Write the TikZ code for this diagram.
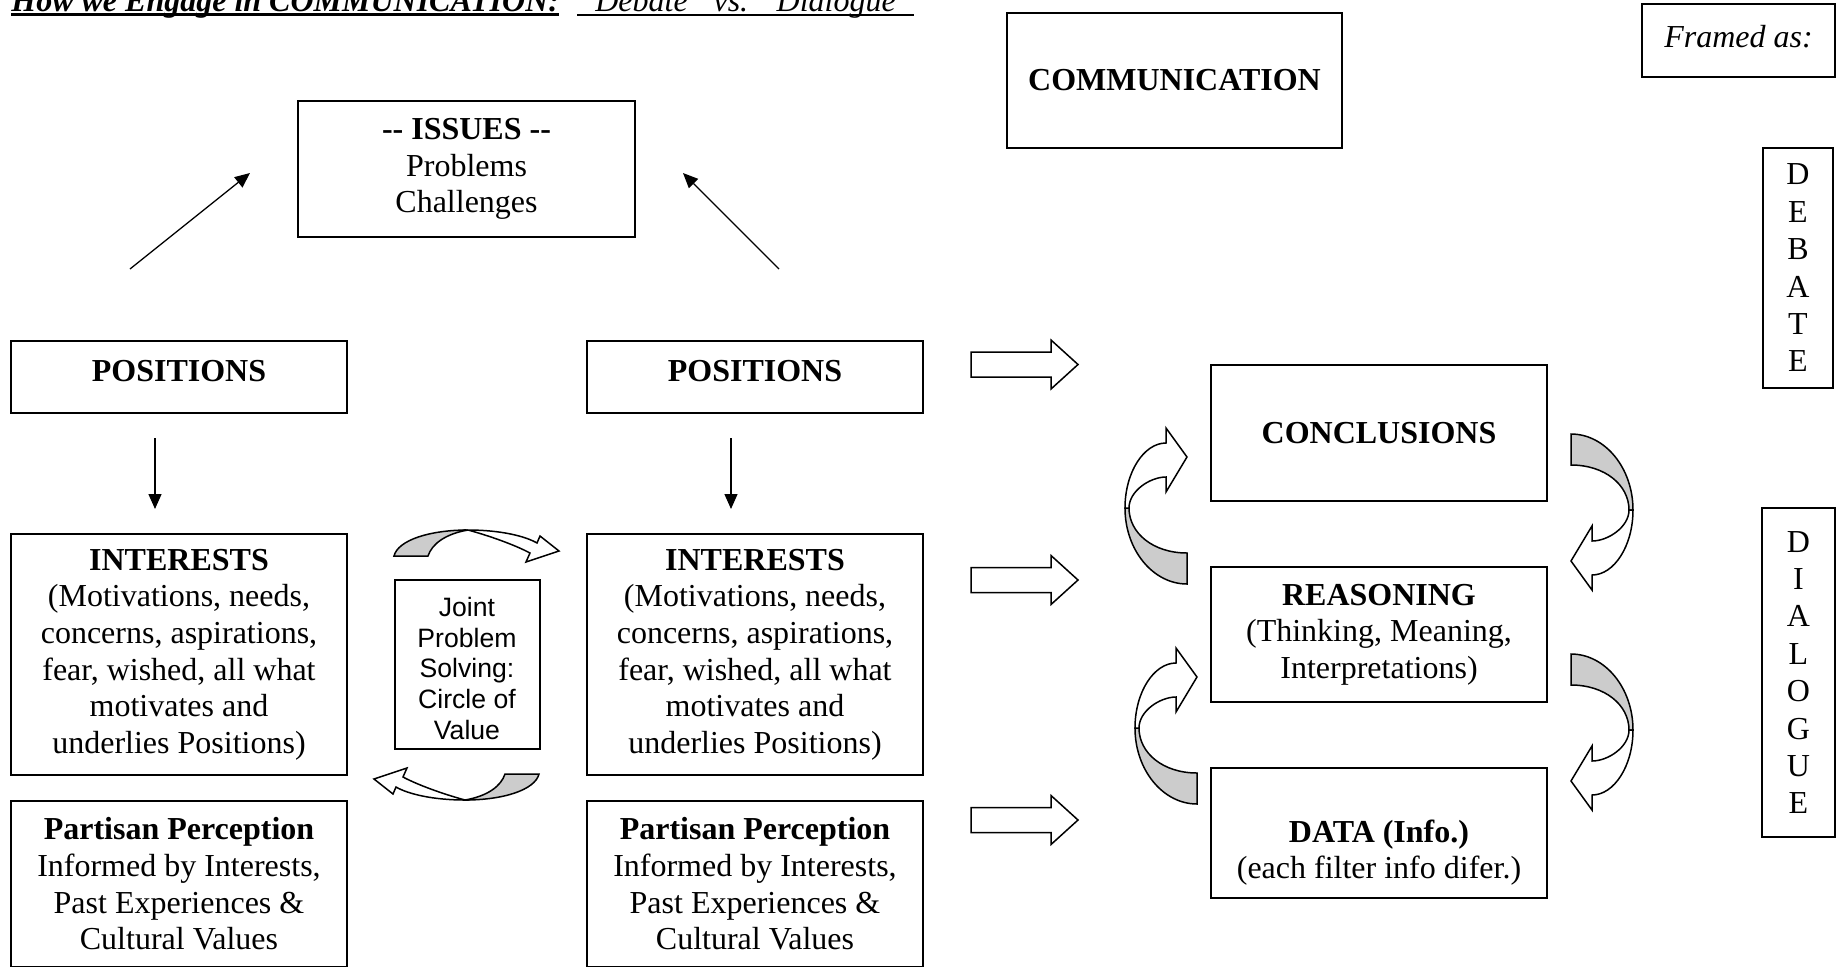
\documentclass[tikz,border=0pt]{standalone}
\usepackage{fontspec}
\setmainfont{Liberation Serif}
\newfontfamily\arialfont{Liberation Sans}
\usepackage{tikz}
\usetikzlibrary{arrows.meta}
\usetikzlibrary{positioning}

\newcommand{\bxfont}{\fontsize{16pt}{18.3pt}\selectfont}
\newcommand{\jointfont}{\arialfont\fontsize{13.3pt}{15.3pt}\selectfont}
\newcommand{\letterfont}{\fontsize{16pt}{18.7pt}\selectfont}

\tikzset{
  box/.style={draw, line width=1pt, align=center, inner sep=0pt, font=\bxfont},
  colbox/.style={box, minimum width=168pt},
  thinarrow/.style={line width=0.65pt, -{Triangle[length=7.5pt,width=6.5pt]}},
  fat/.style={draw, line width=0.75pt, line join=miter},
  bentarrow/.pic={
    \draw[fat, fill=gray!40] (0,127) .. controls (-34,127) and (-62,93) .. (-62,51)
      -- (-58,51) .. controls (-58,76) and (-34,96) .. (0,96) -- cycle;
    \draw[fat, fill=white] (-62,51) .. controls (-62,15) and (-43,-14) .. (-21,-14)
      -- (-21,-29) -- (0,0) -- (-21,35) -- (-21,20)
      .. controls (-37,20) and (-58,34) .. (-58,51) -- cycle;
  },
  smallbent/.pic={
    \draw[fat, fill=gray!40] (-165,5) .. controls (-161,-11) and (-129,-21) .. (-91,-21)
      .. controls (-114,-17) and (-127,-7) .. (-131,5) -- cycle;
    \draw[fat, fill=white] (-91,-21) .. controls (-59,-21) and (-34,-15) .. (-22,-8)
      -- (-19,-15) -- (0,0) -- (-33,11) -- (-29,2)
      .. controls (-44,-6) and (-69,-15) .. (-91,-21) -- cycle;
  },
}

\begin{document}
\begin{tikzpicture}[x=0.5pt, y=-0.5pt]
  \path[use as bounding box] (0,0) rectangle (1844,966);
  \clip (0,0) rectangle (1844,966);

  % heading
  \node[anchor=base west, inner sep=0pt, font=\bxfont\bfseries\itshape] (title) at (11,11.5)
    {How we Engage in COMMUNICATION:};
  \draw[line width=1.6pt] ([yshift=-1.6pt]title.base west) -- ([yshift=-1.6pt]title.base east);
  \node[anchor=base east, inner sep=0pt, font=\bxfont\itshape] (versus) at (914,11.5)
    {"Debate" vs. "Dialogue"};
  \draw[line width=0.8pt] ([yshift=-1.6pt]versus.base west) -- ([yshift=-1.6pt]versus.base east);

  % top boxes
  \node[box, minimum width=168.5pt, minimum height=68pt] (issues) at (466.5,169)
    {\textbf{-{}- ISSUES -{}-}\\Problems\\Challenges};
  \node[box, minimum width=167.5pt, minimum height=67.5pt] (comm) at (1174.5,80.5)
    {\textbf{COMMUNICATION}};
  \node[box, font=\bxfont\itshape, minimum width=96.5pt, minimum height=36.5pt] (framed) at (1738.5,40.5)
    {Framed as:\rule[-4pt]{0pt}{4pt}};

  % left side
  \node[colbox, minimum height=36pt] (posL) at (179,377)
    {\textbf{POSITIONS}\rule[-6.5pt]{0pt}{6.5pt}};
  \node[colbox, minimum height=120.5pt, below=59.5pt of posL] (intL)
    {\textbf{INTERESTS}\\(Motivations, needs,\\concerns, aspirations,\\fear, wished, all what\\motivates and\\underlies Positions)};
  \node[colbox, minimum height=83pt, below=12pt of intL] (partL)
    {\textbf{Partisan Perception}\\Informed by Interests,\\Past Experiences \&\\Cultural Values};

  \node[colbox, minimum height=36pt] (posR) at (755,377)
    {\textbf{POSITIONS}\rule[-6.5pt]{0pt}{6.5pt}};
  \node[colbox, minimum height=120.5pt, below=59.5pt of posR] (intR)
    {\textbf{INTERESTS}\\(Motivations, needs,\\concerns, aspirations,\\fear, wished, all what\\motivates and\\underlies Positions)};
  \node[colbox, minimum height=83pt, below=12pt of intR] (partR)
    {\textbf{Partisan Perception}\\Informed by Interests,\\Past Experiences \&\\Cultural Values};

  \node[box, font=\jointfont, minimum width=72.5pt, minimum height=84.5pt] (joint) at (467,664.5)
    {\rule{0pt}{13.5pt}Joint\\Problem\\Solving:\\Circle of\\Value};

  \coordinate (dl0) at (130,269);
  \coordinate (dl1) at (250,173);
  \coordinate (dr0) at (779,269);
  \coordinate (dr1) at (683,173);
  \draw[thinarrow] (dl0) -- (dl1);
  \draw[thinarrow] (dr0) -- (dr1);
  \draw[thinarrow, shorten <=12pt, shorten >=12pt] ([xshift=-12pt]posL.south) -- ([xshift=-12pt]intL.north);
  \draw[thinarrow, shorten <=12pt, shorten >=12pt] ([xshift=-12pt]posR.south) -- ([xshift=-12pt]intR.north);

  \pic at (559,551) {smallbent};
  \pic[rotate=180] at (374,779) {smallbent};

  % block arrows
  \draw[fat] (971,352) -- (1051,352) -- (1051,340) -- (1078,364.5) -- (1051,389) -- (1051,377) -- (971,377) -- cycle;
  \draw[fat] (971,567.5) -- (1051,567.5) -- (1051,555.5) -- (1078,580) -- (1051,604.5) -- (1051,592.5) -- (971,592.5) -- cycle;
  \draw[fat] (971,807.5) -- (1051,807.5) -- (1051,795.5) -- (1078,820) -- (1051,844.5) -- (1051,832.5) -- (971,832.5) -- cycle;

  % right side
  \node[colbox, minimum height=68pt] (concl) at (1379,433) {\textbf{CONCLUSIONS}};
  \node[colbox, minimum height=67.5pt, below=32pt of concl] (reason)
    {\textbf{REASONING}\\(Thinking, Meaning,\\Interpretations)};
  \node[colbox, minimum height=65pt, below=32pt of reason] (data)
    {\rule{0pt}{31pt}\textbf{DATA (Info.)}\\(each filter info difer.)};

  \pic at (1187,457) {bentarrow};
  \pic at (1197,677) {bentarrow};
  \pic[rotate=180] at (1571,561) {bentarrow};
  \pic[rotate=180] at (1571,781) {bentarrow};

  \node[box, font=\letterfont, minimum width=35pt, minimum height=120pt] (debate) at (1798,268)
    {D\\E\\B\\A\\T\\E};
  \node[box, font=\letterfont, minimum width=36.5pt, minimum height=164.5pt] (dialogue) at (1798.5,672.5)
    {D\\I\\A\\L\\O\\G\\U\\E};
\end{tikzpicture}
\end{document}
